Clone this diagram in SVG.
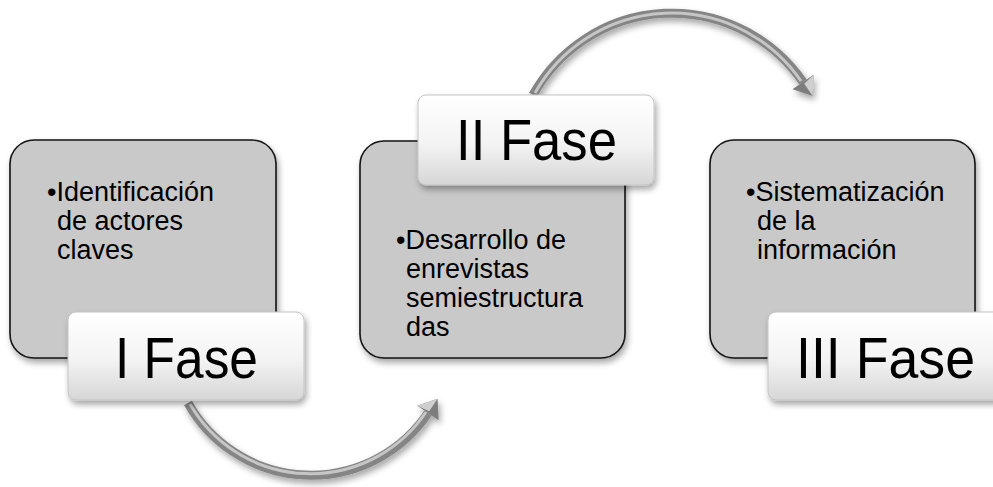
<svg xmlns="http://www.w3.org/2000/svg" width="993" height="487" viewBox="0 0 993 487">
  <style>
    .body { fill: #c9c9c9; stroke: #151515; stroke-width: 1.6; filter: url(#shadow); }
    .label { fill: url(#labelGrad); stroke: #c4c4c4; stroke-width: 1; filter: url(#shadow); }
    .txt { font-family: "Liberation Sans", Arial, sans-serif; font-size: 27px; fill: #000; }
    .big { font-family: "Liberation Sans", Arial, sans-serif; font-size: 57px; fill: #000; }
    .tube { fill: none; stroke: #858585; stroke-width: 9; stroke-linecap: butt; }
    .shine { fill: none; stroke: #c6c6c6; stroke-width: 3; }
  </style>
  <defs>
    <linearGradient id="labelGrad" x1="0" y1="0" x2="0" y2="1">
      <stop offset="0" stop-color="#ffffff"/>
      <stop offset="0.55" stop-color="#f3f3f3"/>
      <stop offset="1" stop-color="#d6d6d6"/>
    </linearGradient>
    <filter id="shadow" x="-20%" y="-20%" width="140%" height="150%">
      <feDropShadow dx="2" dy="4" stdDeviation="3" flood-color="#000" flood-opacity="0.35"/>
    </filter>
    <marker id="head" markerUnits="userSpaceOnUse" markerWidth="30" markerHeight="30" viewBox="-2 -14 20 28" refX="0" refY="0" orient="auto">
      <path d="M0,-12 L16,0 L0,12 Z" fill="#7d7d7d"/>
      <path d="M0,-12 L16,0 L2,0 Z" fill="#cfcfcf"/>
    </marker>
  </defs>

  <g id="connectors" filter="url(#shadow)">
    <path class="tube" d="M188,403 A141,141 0 0 0 428,413" marker-end="url(#head)"/>
    <path class="shine" d="M190,404 A139,139 0 0 0 426,412"/>
    <path class="tube" d="M533,95 A159,159 0 0 1 803,82" marker-end="url(#head)"/>
    <path class="shine" d="M535,93 A157,157 0 0 1 801,81"/>
  </g>

  <g id="fase1">
    <rect class="body" x="10" y="140" width="266" height="218" rx="24"/>
    <text class="txt" x="47" y="201">•Identificación</text>
    <text class="txt" x="57" y="230">de actores</text>
    <text class="txt" x="57" y="259">claves</text>
    <rect class="label" x="68" y="312" width="236" height="88" rx="8"/>
    <text class="big" x="115" y="378" textLength="143" lengthAdjust="spacingAndGlyphs">I Fase</text>
  </g>

  <g id="fase2">
    <rect class="body" x="360" y="141" width="265" height="217" rx="24"/>
    <text class="txt" x="396" y="249">•Desarrollo de</text>
    <text class="txt" x="406" y="278">enrevistas</text>
    <text class="txt" x="406" y="307">semiestructura</text>
    <text class="txt" x="406" y="336">das</text>
    <rect class="label" x="418" y="95" width="236" height="90" rx="8"/>
    <text class="big" x="456" y="160" textLength="161" lengthAdjust="spacingAndGlyphs">II Fase</text>
  </g>

  <g id="fase3">
    <rect class="body" x="710" y="140" width="265" height="218" rx="24"/>
    <text class="txt" x="746" y="201">•Sistematización</text>
    <text class="txt" x="757" y="230">de la</text>
    <text class="txt" x="757" y="259">información</text>
    <rect class="label" x="768" y="312" width="236" height="88" rx="8"/>
    <text class="big" x="796" y="378" textLength="179" lengthAdjust="spacingAndGlyphs">III Fase</text>
  </g>
</svg>
